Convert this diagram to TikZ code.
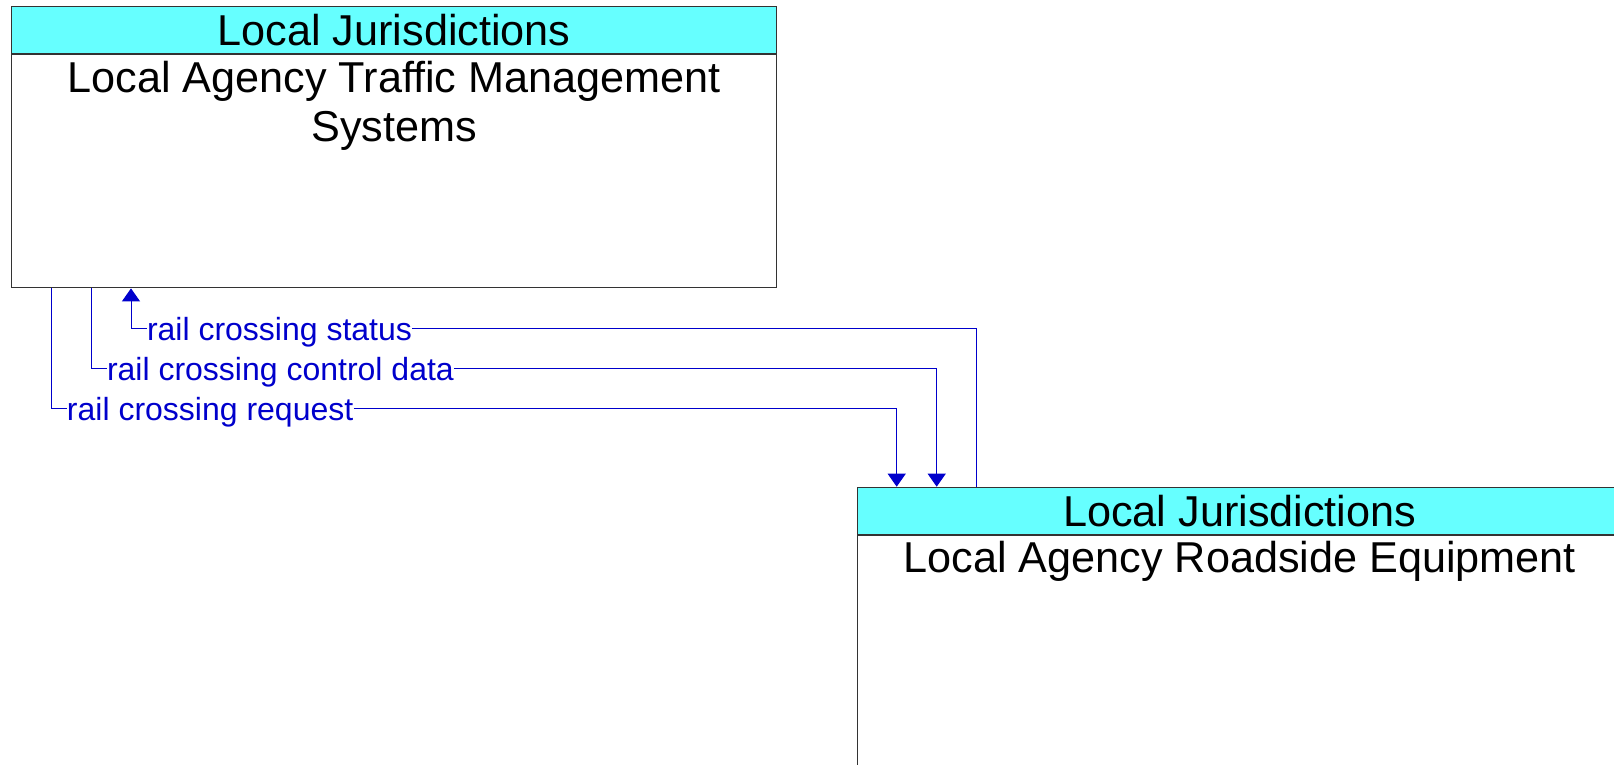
\documentclass[tikz,border=0pt]{standalone}
\usepackage{fontspec}
\setmainfont{Liberation Sans}
\usepackage{xcolor}
\usetikzlibrary{positioning,arrows.meta}
\definecolor{hdrcyan}{HTML}{66FFFF}
\definecolor{flowblue}{HTML}{0000CC}

\begin{document}
\begin{tikzpicture}[x=0.5pt,y=-0.5pt,
	hdr/.style={draw=black!80,line width=0.6pt,fill=hdrcyan,minimum width=382.5pt,minimum height=23.5pt,inner sep=0pt,anchor=north west,font=\fontsize{21.6}{24.5}\selectfont},
	body/.style={draw=black!80,line width=0.6pt,fill=white,minimum width=382.5pt,minimum height=116.5pt,inner sep=0pt,anchor=north west},
	title/.style={anchor=north,inner sep=0pt,align=center,font=\fontsize{21.6}{24.5}\selectfont},
	flow/.style={draw=flowblue,line width=0.5pt},
	flowlbl/.style={anchor=west,inner sep=0pt,text=flowblue,text height=12.3pt,text depth=0pt,font=\fontsize{16}{16}\selectfont},
	tip/.style={-{Triangle[width=9pt,length=6.5pt]}}]
		
		\useasboundingbox (0,0) rectangle (1614,765);
		
		% the two systems
		\node[hdr] (tmshdr) at (11,6) {Local Jurisdictions};
		\node[body] (tms) at (tmshdr.south west) {};
		\node[title] (tmsname) at ([yshift=-3.5pt]tms.north) {Local Agency Traffic Management\\Systems};
		
		\node[hdr] (rsehdr) at (856.7,486.7) {Local Jurisdictions};
		\node[body] (rse) at (rsehdr.south west) {};
		\node[title] (rsename) at ([yshift=-3pt]rse.north) {Local Agency Roadside Equipment};
		
		% where the flows meet the boxes
		\coordinate (reqout) at ([xshift=20pt]tms.south west);
		\coordinate (ctrlout) at ([xshift=40pt]tms.south west);
		\coordinate (statusin) at ([xshift=60pt]tms.south west);
		\coordinate (reqin) at ([xshift=20pt]rsehdr.north west);
		\coordinate (ctrlin) at ([xshift=40pt]rsehdr.north west);
		\coordinate (statusout) at ([xshift=60pt]rsehdr.north west);
		
		\node[flowlbl] (status) at ([shift={(7.8pt,-20pt)}]statusin) {rail crossing status};
		\node[flowlbl] (ctrl) at ([shift={(7.8pt,-40pt)}]ctrlout) {rail crossing control data};
		\node[flowlbl] (req) at ([shift={(7.8pt,-60pt)}]reqout) {rail crossing request};
		
		\draw[flow] (statusout) |- (status.east);
		\draw[flow,tip] (status.west) -| (statusin);
		\draw[flow] (ctrlout) |- (ctrl.west);
		\draw[flow,tip] (ctrl.east) -| (ctrlin);
		\draw[flow] (reqout) |- (req.west);
		\draw[flow,tip] (req.east) -| (reqin);
		
	\end{tikzpicture}
\end{document}
